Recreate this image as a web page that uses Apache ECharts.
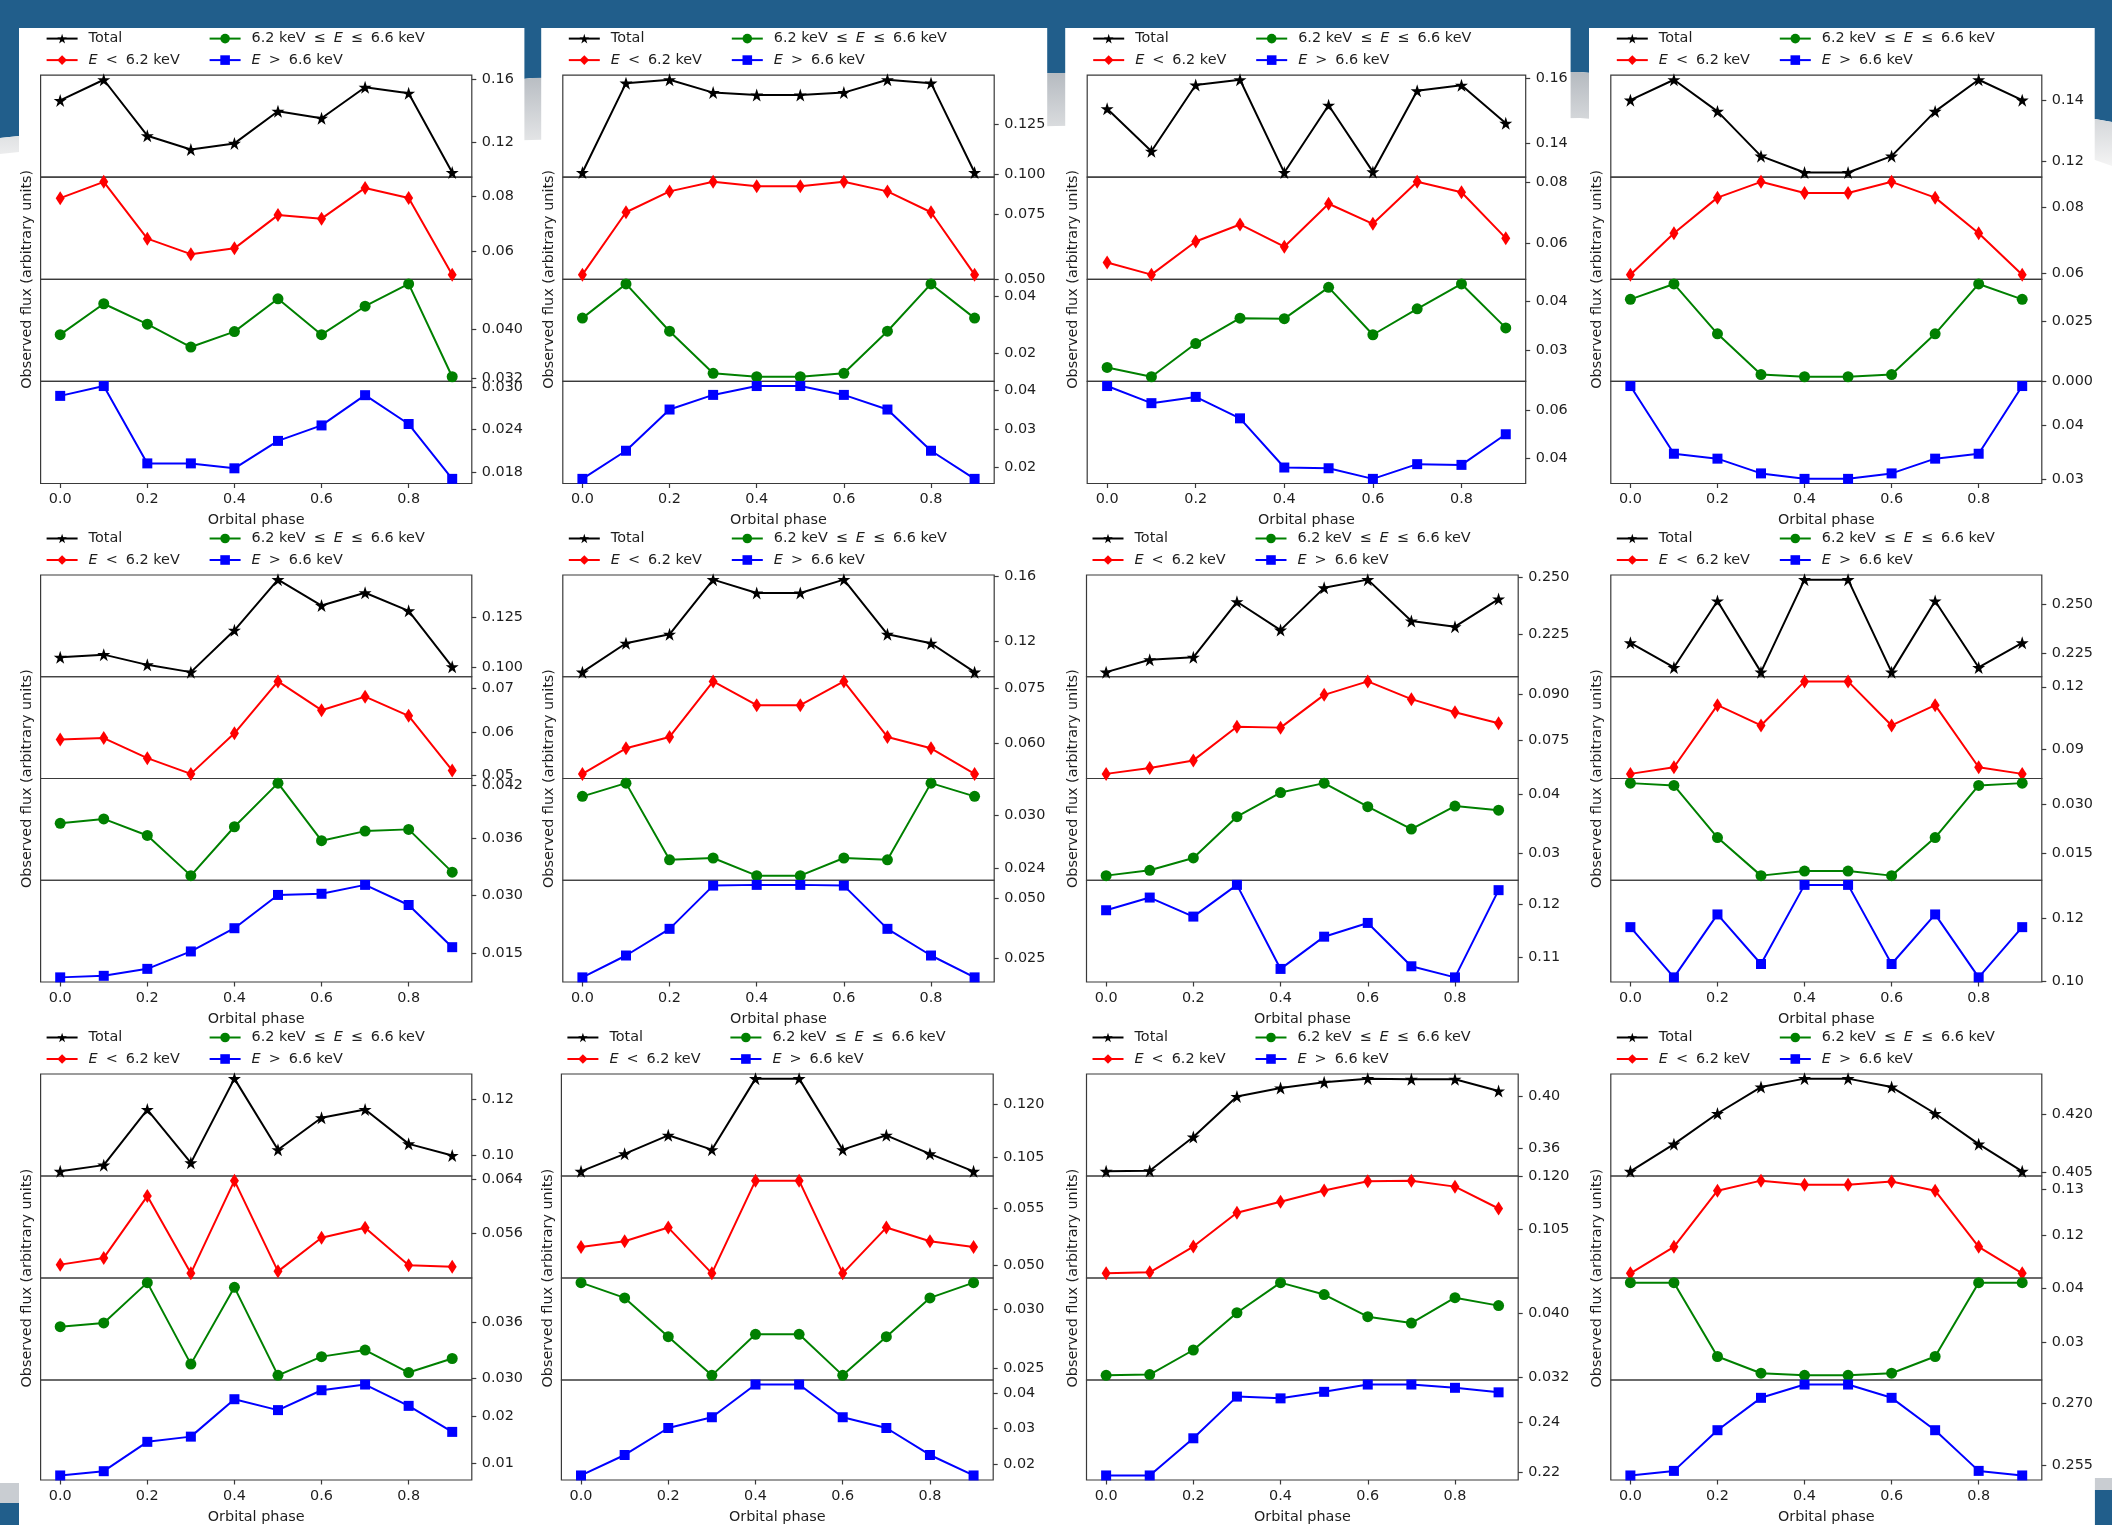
<!DOCTYPE html>
<html><head><meta charset="utf-8">
<script src="https://cdn.jsdelivr.net/npm/echarts@6/dist/echarts.min.js"></script>
<style>html,body{margin:0;padding:0;background:#fff}#c{width:2112px;height:1525px}</style>
</head><body><div id="c"></div><script>
// ---------------- DATA ----------------
const phase = [0.0, 0.1, 0.2, 0.3, 0.4, 0.5, 0.6, 0.7, 0.8, 0.9];
const seriesNames = ['Total', 'E < 6.2 keV', '6.2 keV ≤ E ≤ 6.6 keV', 'E > 6.6 keV'];
const xTickLabels = ['0.0', '0.2', '0.4', '0.6', '0.8'];
const xAxisTitle = 'Orbital phase';
const yAxisTitle = 'Observed flux (arbitrary units)';

const p1Total = [0.1468, 0.1600, 0.1243, 0.1155, 0.1194, 0.1399, 0.1354, 0.1552, 0.1514, 0.1008];
const p1Low   = [0.0793, 0.0852, 0.0647, 0.0591, 0.0612, 0.0732, 0.0719, 0.0830, 0.0794, 0.0517];
const p1Mid   = [0.0391, 0.0441, 0.0408, 0.0371, 0.0396, 0.0449, 0.0391, 0.0437, 0.0473, 0.0323];
const p1High  = [0.0288, 0.0302, 0.0192, 0.0192, 0.0185, 0.0224, 0.0246, 0.0289, 0.0248, 0.0170];
const p1Ticks = [['0.16', '0.12'], ['0.08', '0.06'], ['0.040', '0.032'], ['0.030', '0.024', '0.018']];

const p2Total = [0.1009, 0.1454, 0.1471, 0.1407, 0.1395, 0.1395, 0.1407, 0.1471, 0.1454, 0.1009];
const p2Low   = [0.0517, 0.0759, 0.0840, 0.0877, 0.0860, 0.0860, 0.0877, 0.0840, 0.0759, 0.0517];
const p2Mid   = [0.0322, 0.0442, 0.0276, 0.0128, 0.0116, 0.0116, 0.0128, 0.0276, 0.0442, 0.0322];
const p2High  = [0.0171, 0.0244, 0.0351, 0.0389, 0.0412, 0.0412, 0.0389, 0.0351, 0.0244, 0.0171];
const p2Ticks = [['0.125', '0.100'], ['0.075', '0.050'], ['0.04', '0.02'], ['0.04', '0.03', '0.02']];

const p3Total = [0.1506, 0.1376, 0.1579, 0.1595, 0.1311, 0.1517, 0.1313, 0.1561, 0.1578, 0.1462];
const p3Low   = [0.0537, 0.0497, 0.0606, 0.0662, 0.0589, 0.0730, 0.0664, 0.0802, 0.0768, 0.0617];
const p3Mid   = [0.0264, 0.0245, 0.0313, 0.0365, 0.0364, 0.0428, 0.0331, 0.0384, 0.0435, 0.0345];
const p3High  = [0.0699, 0.0628, 0.0654, 0.0565, 0.0361, 0.0358, 0.0314, 0.0375, 0.0372, 0.0499];
const p3Ticks = [['0.16', '0.14'], ['0.08', '0.06'], ['0.04', '0.03'], ['0.06', '0.04']];

const p4Total = [0.1400, 0.1467, 0.1363, 0.1216, 0.1162, 0.1162, 0.1216, 0.1363, 0.1467, 0.1400];
const p4Low   = [0.0595, 0.0721, 0.0829, 0.0877, 0.0843, 0.0843, 0.0877, 0.0829, 0.0721, 0.0595];
const p4Mid   = [0.0339, 0.0403, 0.0196, 0.0027, 0.0018, 0.0018, 0.0027, 0.0196, 0.0403, 0.0339];
const p4High  = [0.0471, 0.0347, 0.0338, 0.0311, 0.0301, 0.0301, 0.0311, 0.0338, 0.0347, 0.0471];
const p4Ticks = [['0.14', '0.12'], ['0.08', '0.06'], ['0.025', '0.000'], ['0.04', '0.03']];

const p5Total = [0.1049, 0.1062, 0.1010, 0.0973, 0.1186, 0.1444, 0.1312, 0.1377, 0.1285, 0.1000];
const p5Low   = [0.0583, 0.0586, 0.0540, 0.0504, 0.0597, 0.0716, 0.0650, 0.0681, 0.0637, 0.0512];
const p5Mid   = [0.0377, 0.0382, 0.0363, 0.0317, 0.0373, 0.0423, 0.0357, 0.0368, 0.0370, 0.0321];
const p5High  = [0.0087, 0.0091, 0.0109, 0.0154, 0.0214, 0.0300, 0.0303, 0.0326, 0.0274, 0.0165];
const p5Ticks = [['0.125', '0.100'], ['0.07', '0.06', '0.05'], ['0.042', '0.036'], ['0.030', '0.015']];

const p6Total = [0.1008, 0.1186, 0.1241, 0.1578, 0.1496, 0.1496, 0.1578, 0.1241, 0.1186, 0.1008];
const p6Low   = [0.0517, 0.0587, 0.0618, 0.0770, 0.0705, 0.0705, 0.0770, 0.0618, 0.0587, 0.0517];
const p6Mid   = [0.0322, 0.0337, 0.0250, 0.0252, 0.0232, 0.0232, 0.0252, 0.0250, 0.0337, 0.0322];
const p6High  = [0.0169, 0.0260, 0.0371, 0.0551, 0.0554, 0.0554, 0.0551, 0.0371, 0.0260, 0.0169];
const p6Ticks = [['0.16', '0.12'], ['0.075', '0.060'], ['0.030', '0.024'], ['0.050', '0.025']];

const p7Total = [0.2086, 0.2140, 0.2151, 0.2394, 0.2270, 0.2455, 0.2491, 0.2310, 0.2285, 0.2406];
const p7Low   = [0.0640, 0.0659, 0.0684, 0.0794, 0.0791, 0.0898, 0.0942, 0.0884, 0.0841, 0.0805];
const p7Mid   = [0.0262, 0.0271, 0.0292, 0.0362, 0.0403, 0.0419, 0.0379, 0.0341, 0.0380, 0.0373];
const p7High  = [0.1189, 0.1213, 0.1177, 0.1237, 0.1078, 0.1139, 0.1165, 0.1083, 0.1062, 0.1227];
const p7Ticks = [['0.250', '0.225'], ['0.090', '0.075'], ['0.04', '0.03'], ['0.12', '0.11']];

const p8Total = [0.2303, 0.2176, 0.2519, 0.2152, 0.2629, 0.2629, 0.2152, 0.2519, 0.2176, 0.2303];
const p8Low   = [0.0779, 0.0811, 0.1111, 0.1013, 0.1226, 0.1226, 0.1013, 0.1111, 0.0811, 0.0779];
const p8Mid   = [0.0363, 0.0356, 0.0197, 0.0081, 0.0095, 0.0095, 0.0081, 0.0197, 0.0356, 0.0363];
const p8High  = [0.1171, 0.1013, 0.1211, 0.1055, 0.1304, 0.1304, 0.1055, 0.1211, 0.1013, 0.1171];
const p8Ticks = [['0.250', '0.225'], ['0.12', '0.09'], ['0.030', '0.015'], ['0.12', '0.10']];

const p9Total = [0.0944, 0.0966, 0.1162, 0.0974, 0.1271, 0.1020, 0.1133, 0.1162, 0.1041, 0.1000];
const p9Low   = [0.0513, 0.0523, 0.0615, 0.0500, 0.0638, 0.0503, 0.0553, 0.0568, 0.0512, 0.0510];
const p9Mid   = [0.0355, 0.0359, 0.0402, 0.0315, 0.0397, 0.0303, 0.0323, 0.0330, 0.0306, 0.0321];
const p9High  = [0.0074, 0.0083, 0.0145, 0.0156, 0.0235, 0.0212, 0.0254, 0.0266, 0.0221, 0.0166];
const p9Ticks = [['0.12', '0.10'], ['0.064', '0.056'], ['0.036', '0.030'], ['0.02', '0.01']];

const p10Total = [0.1009, 0.1059, 0.1112, 0.1071, 0.1274, 0.1274, 0.1071, 0.1112, 0.1059, 0.1009];
const p10Low   = [0.0516, 0.0521, 0.0533, 0.0493, 0.0574, 0.0574, 0.0493, 0.0533, 0.0521, 0.0516];
const p10Mid   = [0.0323, 0.0310, 0.0277, 0.0244, 0.0279, 0.0279, 0.0244, 0.0277, 0.0310, 0.0323];
const p10High  = [0.0170, 0.0227, 0.0302, 0.0332, 0.0423, 0.0423, 0.0332, 0.0302, 0.0227, 0.0170];
const p10Ticks = [['0.120', '0.105'], ['0.055', '0.050'], ['0.030', '0.025'], ['0.04', '0.03', '0.02']];

const p11Total = [0.3428, 0.3433, 0.3689, 0.3997, 0.4061, 0.4104, 0.4132, 0.4127, 0.4127, 0.4038];
const p11Low   = [0.0925, 0.0928, 0.1001, 0.1097, 0.1128, 0.1160, 0.1186, 0.1188, 0.1171, 0.1109];
const p11Mid   = [0.0322, 0.0323, 0.0354, 0.0401, 0.0439, 0.0424, 0.0396, 0.0388, 0.0420, 0.0410];
const p11High  = [0.2187, 0.2187, 0.2335, 0.2501, 0.2494, 0.2520, 0.2549, 0.2549, 0.2536, 0.2518];
const p11Ticks = [['0.40', '0.36'], ['0.120', '0.105'], ['0.040', '0.032'], ['0.24', '0.22']];

const p12Total = [0.4052, 0.4123, 0.4203, 0.4272, 0.4294, 0.4294, 0.4272, 0.4203, 0.4123, 0.4052];
const p12Low   = [0.1116, 0.1174, 0.1297, 0.1319, 0.1310, 0.1310, 0.1317, 0.1297, 0.1174, 0.1116];
const p12Mid   = [0.0411, 0.0411, 0.0274, 0.0243, 0.0239, 0.0239, 0.0243, 0.0274, 0.0411, 0.0411];
const p12High  = [0.2526, 0.2537, 0.2635, 0.2713, 0.2745, 0.2745, 0.2713, 0.2635, 0.2537, 0.2526];
const p12Ticks = [['0.420', '0.405'], ['0.13', '0.12'], ['0.04', '0.03'], ['0.270', '0.255']];

const panels = [
  [p1Total, p1Low, p1Mid, p1High, p1Ticks], [p2Total, p2Low, p2Mid, p2High, p2Ticks],
  [p3Total, p3Low, p3Mid, p3High, p3Ticks], [p4Total, p4Low, p4Mid, p4High, p4Ticks],
  [p5Total, p5Low, p5Mid, p5High, p5Ticks], [p6Total, p6Low, p6Mid, p6High, p6Ticks],
  [p7Total, p7Low, p7Mid, p7High, p7Ticks], [p8Total, p8Low, p8Mid, p8High, p8Ticks],
  [p9Total, p9Low, p9Mid, p9High, p9Ticks], [p10Total, p10Low, p10Mid, p10High, p10Ticks],
  [p11Total, p11Low, p11Mid, p11High, p11Ticks], [p12Total, p12Low, p12Mid, p12High, p12Ticks]
];

// ---------------- LAYOUT / STYLE ----------------
const FONT = 'DejaVu Sans';
const FS = 14.4;
const TXT = '#1e1e1e';
const FRAME = '#3a3a3a';
const STAR = 'path://M0,-100L22.45,-30.9L95.1,-30.9L36.3,11.8L58.8,80.9L0,38.2L-58.8,80.9L-36.3,11.8L-95.1,-30.9L-22.45,-30.9Z';
const THIN_DIAMOND = 'path://M0,-100L60,0L0,100L-60,0Z';
const seriesStyles = [
  {color: '#000000', symbol: STAR, size: 13},
  {color: '#ff0000', symbol: THIN_DIAMOND, size: [9, 14]},
  {color: '#008000', symbol: 'circle', size: 11},
  {color: '#0000ff', symbol: 'rect', size: 10}
];
const legendSlots = [[0, 0], [0, 1], [1, 0], [1, 1]]; // [column, row]
const frameX = [
  [[40.6, 471.8], [562.8, 994.2], [1087.2, 1525.7], [1610.8, 2041.8]],
  [[40.6, 471.8], [562.8, 994.2], [1086.5, 1518.2], [1610.8, 2041.8]],
  [[40.6, 471.8], [561.4, 993.2], [1086.5, 1518.2], [1610.8, 2041.8]]
];
const frameY = [[75.1, 483.5], [575, 982], [1074, 1482]];
const whiteCols = [[19, 524.4], [541.2, 1047.2], [1065.2, 1570.6], [1589, 2094.7]];

const grid = [], xAxis = [], yAxis = [], series = [], legend = [], graphic = [];

// background decoration (slide)
const BLUE = '#215e8b';
const BGZ = -10;
graphic.push({type: 'polygon', z: BGZ, silent: true,
  shape: {points: [[0, 0], [2112, 0], [2112, 122], [2095, 119], [1580, 72], [1056, 73], [532, 78], [19, 136], [0, 138]]},
  style: {fill: BLUE}});
graphic.push({type: 'polygon', z: BGZ, silent: true,
  shape: {points: [[0, 138], [19, 136], [532, 78], [1056, 73], [1580, 72], [2095, 119], [2112, 122],
                   [2112, 166], [2095, 160], [1580, 118], [1056, 126], [532, 140], [19, 152], [0, 154]]},
  style: {fill: new echarts.graphic.LinearGradient(0, 0, 0, 1, [{offset: 0, color: '#b5bac0'}, {offset: 1, color: '#f4f4f4'}])}});
graphic.push({type: 'rect', z: BGZ, silent: true, shape: {x: 0, y: 1483, width: 19, height: 20}, style: {fill: '#c9cdd2'}});
graphic.push({type: 'rect', z: BGZ, silent: true, shape: {x: 0, y: 1503, width: 19, height: 22}, style: {fill: BLUE}});
graphic.push({type: 'rect', z: BGZ, silent: true, shape: {x: 2094.7, y: 1478, width: 18, height: 12}, style: {fill: '#c9cdd2'}});
graphic.push({type: 'rect', z: BGZ, silent: true, shape: {x: 2094.7, y: 1490, width: 18, height: 35}, style: {fill: BLUE}});
whiteCols.forEach(([a, b]) => graphic.push({type: 'rect', z: BGZ, silent: true,
  shape: {x: a, y: 28, width: b - a, height: 1497}, style: {fill: '#ffffff'}}));

function legendFmt(name) {
  return name.replace(/E/g, '{i|E}').replace(/ ([<>≤]) /g, '{r|$1}');
}
function labelFor(ticks) {
  return v => {
    for (const s of ticks) if (Math.abs(Number(s) - v) < 1e-9) return s;
    return String(v);
  };
}

panels.forEach((pan, p) => {
  const r = Math.floor(p / 4), c = p % 4;
  const [L, R] = frameX[r][c];
  const [T, B] = frameY[r];
  const h = (B - T) / 4;
  const ticks = pan[4];
  for (let k = 0; k < 4; k++) {
    const g = p * 4 + k;
    grid.push({left: L, top: T + k * h, width: R - L, height: h, show: true, z: 2,
      borderColor: FRAME, borderWidth: 1.2, backgroundColor: 'rgba(0,0,0,0)'});
    const bottom = k === 3;
    xAxis.push({type: 'value', gridIndex: g, min: -0.045, max: 0.945,
      axisLine: {show: false, onZero: false}, splitLine: {show: false},
      axisTick: {show: bottom, length: 4.5, lineStyle: {color: FRAME, width: 1.2},
        customValues: xTickLabels.map(Number)},
      axisLabel: {show: bottom, customValues: xTickLabels.map(Number),
        formatter: v => v.toFixed(1), margin: 9, fontFamily: FONT, fontSize: FS, color: TXT},
      name: bottom ? xAxisTitle : '', nameLocation: 'middle', nameGap: 30,
      nameTextStyle: {fontFamily: FONT, fontSize: FS, color: TXT}});
    const tv = ticks[k].map(Number);
    yAxis.push({type: 'value', gridIndex: g, position: 'right',
      min: v => v.min - 0.05 * (v.max - v.min),
      max: v => v.max + 0.05 * (v.max - v.min),
      axisLine: {show: false, onZero: false}, splitLine: {show: false},
      axisTick: {show: true, length: 4.5, lineStyle: {color: FRAME, width: 1.2}, customValues: tv},
      axisLabel: {customValues: tv, formatter: labelFor(ticks[k]), margin: 10,
        fontFamily: FONT, fontSize: FS, color: TXT}});
    const st = seriesStyles[k];
    series.push({type: 'line', name: seriesNames[k], xAxisIndex: g, yAxisIndex: g,
      data: phase.map((x, i) => [x, pan[k][i]]),
      symbol: st.symbol, symbolSize: st.size, showSymbol: true, showAllSymbol: true,
      lineStyle: {color: st.color, width: 2}, itemStyle: {color: st.color},
      emphasis: {disabled: true}, animation: false, clip: false, z: 3});
    const [col, row] = legendSlots[k];
    legend.push({data: [seriesNames[k]], left: L + (col ? 168 : 5), top: T - (row ? 15 : 36.5) - 7,
      padding: 0, itemWidth: 31, itemHeight: 12, selectedMode: false, formatter: legendFmt,
      textStyle: {fontFamily: FONT, fontSize: FS, color: TXT, padding: [0, 0, 0, 6],
        rich: {i: {fontFamily: FONT, fontSize: FS, color: TXT, fontStyle: 'italic'},
               r: {fontFamily: FONT, fontSize: FS, color: TXT, padding: [0, 8]}}}});
  }
  graphic.push({type: 'text', z: 10, x: L - 13.5, y: (T + B) / 2, rotation: Math.PI / 2,
    style: {text: yAxisTitle, font: FS + 'px "' + FONT + '"', fill: TXT, align: 'center', verticalAlign: 'middle'}});
});

const chart = echarts.init(document.getElementById('c'), null, {renderer: 'canvas'});
chart.setOption({animation: false, backgroundColor: '#ffffff',
  grid, xAxis, yAxis, series, legend, graphic});
</script></body></html>
